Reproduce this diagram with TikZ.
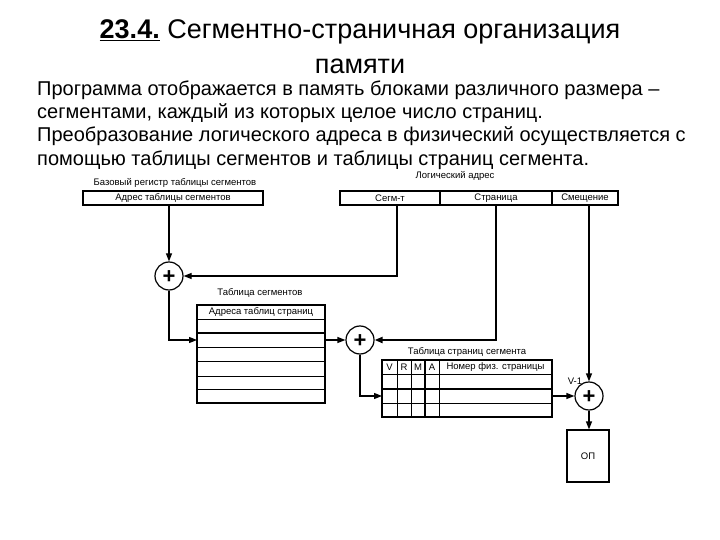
\documentclass[tikz,border=0pt]{standalone}
\usepackage{fontspec}
\setmainfont{Liberation Sans}
\usetikzlibrary{arrows.meta}
\tikzset{
  box/.style={draw, line width=1.2bp, inner sep=0pt, font=\fontsize{9.5bp}{11bp}\selectfont},
  lbl/.style={inner sep=0pt, font=\fontsize{9.5bp}{11bp}\selectfont},
  summ/.style={draw, line width=1.2bp, circle, minimum size=28bp, inner sep=0pt, text height=0pt, text depth=0pt, font=\fontsize{22bp}{22bp}\selectfont\bfseries},
  conn/.style={line width=1.2bp, -{Triangle[length=8bp,width=6bp]}},
  txt/.style={anchor=west, inner sep=0pt, font=\fontsize{20bp}{23bp}\selectfont},
}
\newcommand{\plussign}{\raisebox{-7.5bp}{+}}
\begin{document}
\begin{tikzpicture}[x=1bp, y=-1bp]
    \useasboundingbox (0,0) rectangle (720,540);

    \node (title) [inner sep=0pt, font=\fontsize{27bp}{30bp}\selectfont] at (360,32) {\underline{\textbf{23.4.}} Сегментно-страничная организация};
    \node (title2) [inner sep=0pt, font=\fontsize{27bp}{30bp}\selectfont] at (360,66) {памяти};
    \node (l1) [txt] at (37,90) {Программа отображается в память блоками различного размера –};
    \node (l2) [txt] at (37,113) {сегментами, каждый из которых целое число страниц.};
    \node (l3) [txt] at (37,136) {Преобразование логического адреса в физический осуществляется с};
    \node (l4) [txt] at (37,160) {помощью таблицы сегментов и таблицы страниц сегмента.};

    % registers
    \node (baselbl) [lbl] at (175,183) {Базовый регистр таблицы сегментов};
    \node (base) [box, minimum width=180bp, minimum height=14bp] at (173,198) {Адрес таблицы сегментов};
    \node (loglbl) [lbl] at (455,176) {Логический адрес};
    \node (segm) [box, minimum width=100bp, minimum height=14bp] at (390,198) {Сегм-т};
    \node (page) [box, minimum width=112bp, minimum height=14bp] at (496,198) {Страница};
    \node (offs) [box, minimum width=66bp, minimum height=14bp] at (585,198) {Смещение};

    % adders
    \node (p1) [summ] at (169,276) {\plussign};
    \node (p2) [summ] at (360,340) {\plussign};
    \node (p3) [summ] at (589,396) {\plussign};

    % segment table
    \node (segtlbl) [lbl] at (260,293) {Таблица сегментов};
    \node (segtab) [box, minimum width=128bp, minimum height=98bp] at (261,354) {};
    \node (segthd) [lbl] at (261,312) {Адреса таблиц страниц};
    \foreach \y in {319,347,361,376,389}
        \draw [line width=1bp] (197,\y) -- (325,\y);
    \draw [line width=2bp] (197,333) -- (325,333);
    \coordinate (segin) at (197,340);

    % page table of segment
    \node (pgtlbl) [lbl] at (467,352) {Таблица страниц сегмента};
    \node (pgtab) [box, minimum width=170bp, minimum height=57bp] at (467,388.5) {};
    \foreach \y in {374,403}
        \draw [line width=1bp] (382,\y) -- (552,\y);
    \draw [line width=2bp] (382,389) -- (552,389);
    \foreach \x in {397,411,439}
        \draw [line width=1bp] (\x,360) -- (\x,417);
    \draw [line width=2bp] (425,360) -- (425,417);
    \foreach \x/\t in {389.5/V,404/R,418/M,432/A,495.5/Номер физ. страницы}
        \node [lbl] at (\x,367) {\t};
    \coordinate (pgin) at (382,396);

    % memory
    \node (op) [box, minimum width=42bp, minimum height=52bp] at (588,456) {ОП};
    \node (vlbl) [lbl] at (575,381) {V-1};

    % connections
    \draw [conn] (p1 |- base.south) -- (p1);
    \coordinate (sg) at (397,205);
    \draw [conn] (sg) |- (p1);
    \draw [conn] (p1) |- (segin);
    \draw [conn] (segin -| segtab.east) -- (p2);
    \draw [conn, line width=2bp] (page.south) |- (p2);
    \draw [conn] (p2) |- (pgin);
    \draw [conn] (pgin -| pgtab.east) -- (p3);
    \draw [conn] (p3 |- offs.south) -- (p3);
    \draw [conn] (p3) -- (p3 |- op.north);
\end{tikzpicture}
\end{document}
